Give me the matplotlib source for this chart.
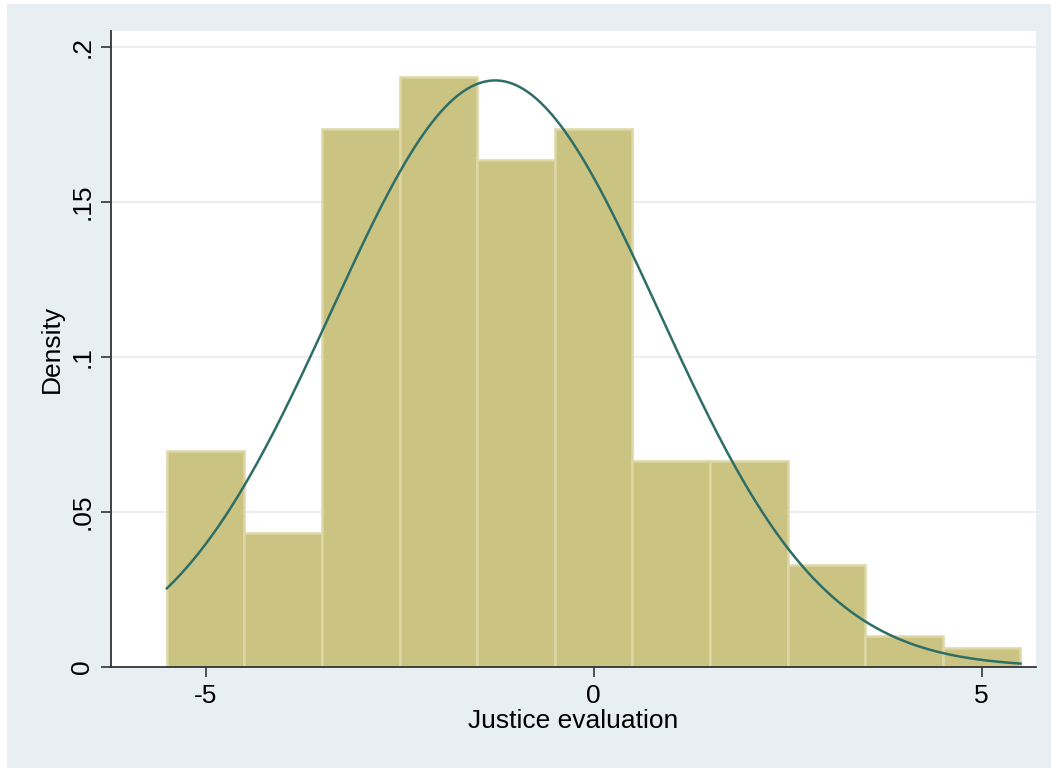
import matplotlib
matplotlib.use("Agg")
import matplotlib.pyplot as plt
import numpy as np
from matplotlib.patches import Rectangle

plt.rcParams['font.family'] = ['Liberation Sans', 'DejaVu Sans']

# histogram bins (width 1) and densities
bin_left = [-5.5, -4.5, -3.5, -2.5, -1.5, -0.5, 0.5, 1.5, 2.5, 3.5, 4.5]
density = [0.0697, 0.0432, 0.1735, 0.1903, 0.1635, 0.1735, 0.0665, 0.0665, 0.0329, 0.0100, 0.0061]
bin_width = 1.0

# fitted normal curve parameters
mu = -1.27
sigma = 2.11

xticks = [-5, 0, 5]
yticks = [0, 0.05, 0.1, 0.15, 0.2]
ylabels = ["0", ".05", ".1", ".15", ".2"]

fig = plt.figure(figsize=(10.51, 7.68), dpi=100)
fig.patch.set_facecolor("white")
# light blue-grey graph region
fig.patches.append(Rectangle((7 / 1051, 0), 1 - 7 / 1051, 1 - 4 / 768,
                             transform=fig.transFigure, facecolor="#e8eff2",
                             edgecolor="none", zorder=-10))

ax = fig.add_axes([111 / 1051, (768 - 667) / 768, (1036 - 111) / 1051, (667 - 31) / 768])
ax.set_zorder(1)
ax.set_facecolor("white")

for g in yticks[1:]:
    ax.axhline(g, color="#e9eff2", lw=1.5, zorder=0)

ax.bar(bin_left, density, width=bin_width, align="edge",
       color="#cbc382", edgecolor="#dcd7a4", linewidth=1.8, zorder=2)

xs = np.linspace(bin_left[0], bin_left[-1] + bin_width, 400)
ys = np.exp(-0.5 * ((xs - mu) / sigma) ** 2) / (sigma * np.sqrt(2 * np.pi))
ax.plot(xs, ys, color="#2e6e67", lw=1.8, zorder=3)

ax.set_xlim(-6.22, 5.70)
ax.set_ylim(0, 0.205)

ax.spines["top"].set_visible(False)
ax.spines["right"].set_visible(False)
ax.spines["left"].set_color("#333333")
ax.spines["bottom"].set_color("#333333")
ax.spines["left"].set_linewidth(1.3)
ax.spines["bottom"].set_linewidth(1.3)

ax.set_xticks(xticks)
ax.set_xticklabels([str(t) for t in xticks])
ax.set_yticks(yticks)
ax.set_yticklabels(ylabels, rotation=90, va="center")
ax.tick_params(axis="both", labelsize=19, length=7, width=1.2, color="#333333", pad=5)

ax.set_xlabel("Justice evaluation", fontsize=19, labelpad=1)
ax.set_ylabel("Density", fontsize=19, labelpad=5)

fig.savefig("out.png", dpi=100, facecolor=fig.get_facecolor())
